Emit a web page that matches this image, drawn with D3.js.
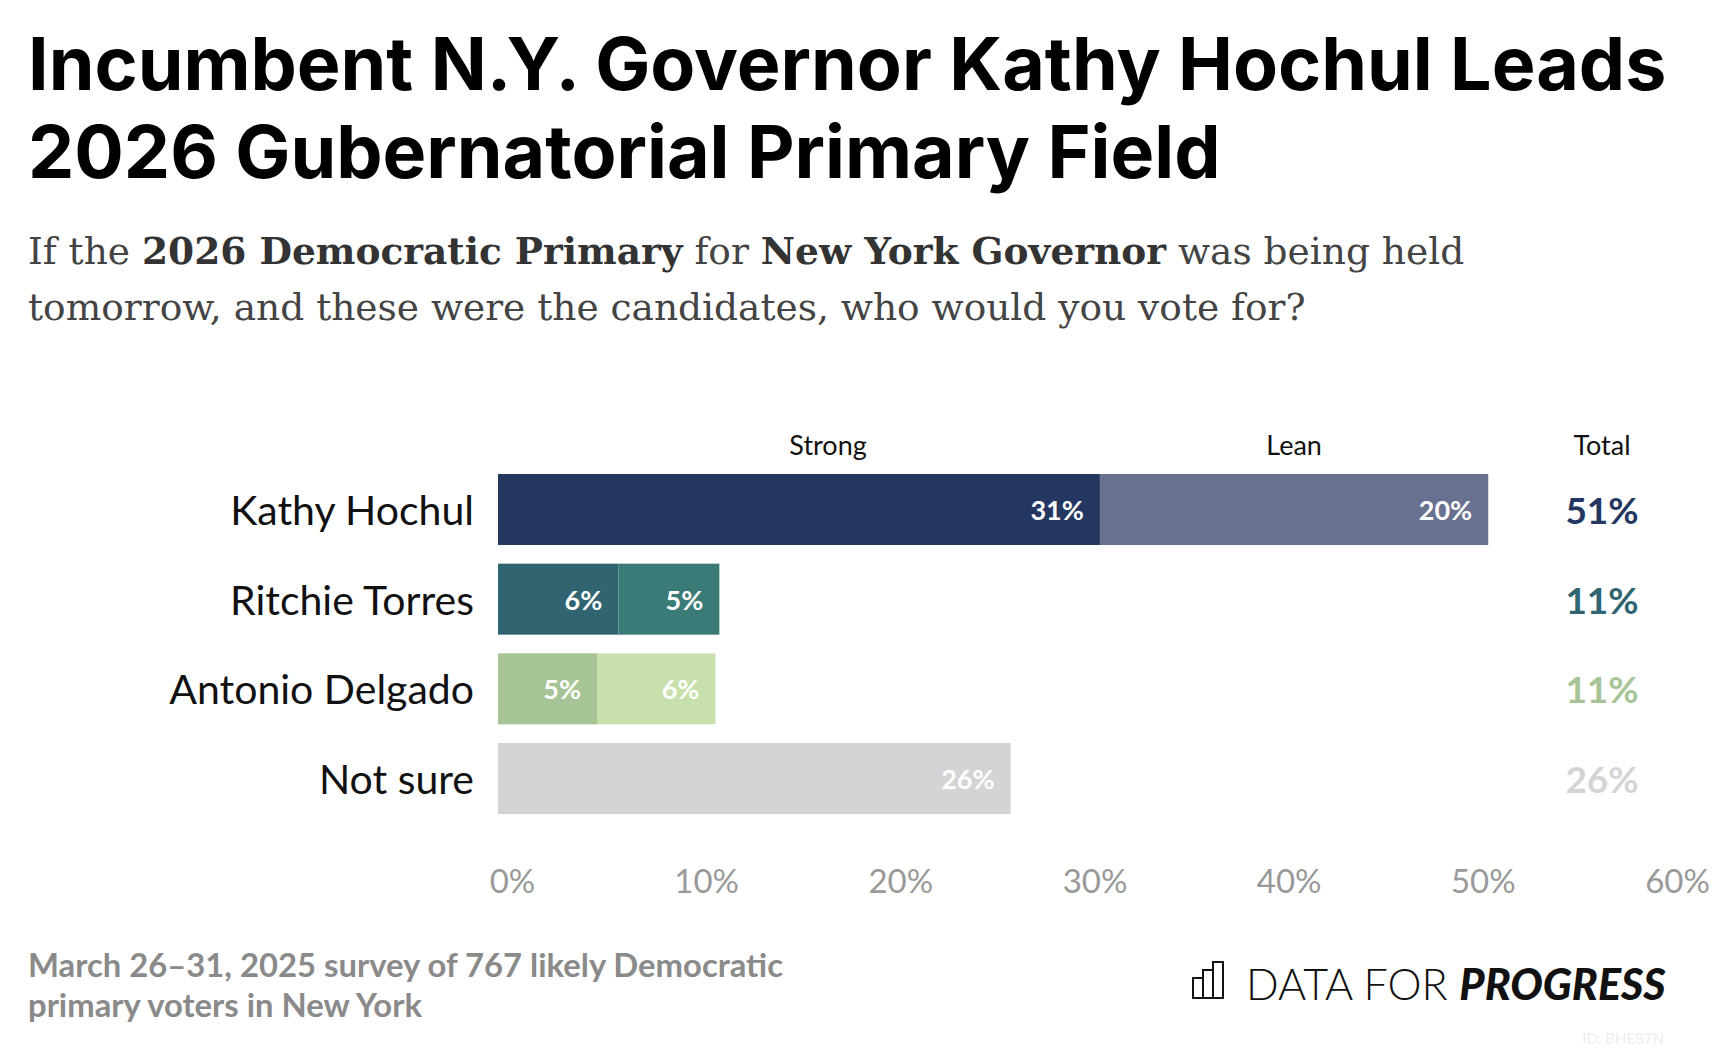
<!DOCTYPE html>
<html><head><meta charset="utf-8">
<script src="https://cdn.jsdelivr.net/npm/d3@7"></script>
<style>body{margin:0;background:#fff}</style></head>
<body><svg id="c" width="1720" height="1056"></svg>
<script>
const categories=["Kathy Hochul","Ritchie Torres","Antonio Delgado","Not sure"];
const strong=[31.0,6.2,5.1,26.4];
const lean=[20.0,5.2,6.1,0];
const strongColors=["#243761","#2f6470","#a6c495","#d3d4d6"];
const leanColors=["#68718f","#3a7b78","#c8e0ab","#d3d4d6"];
const ticks=[0,10,20,30,40,50,60];

const svg=d3.select("#c");
const F="Lato, 'Open Sans', sans-serif";
const t=svg.append("text").attr("font-family","Inter, sans-serif").attr("font-weight",700).attr("font-size",73.5).attr("fill","#000");
t.append("tspan").attr("x",28).attr("y",90).text("Incumbent N.Y. Governor Kathy Hochul Leads");
t.append("tspan").attr("x",28).attr("y",178).text("2026 Gubernatorial Primary Field");
const s=svg.append("text").attr("font-family","'DejaVu Serif', serif").attr("font-size",37.5).attr("fill","#444");
const l1=s.append("tspan").attr("x",28).attr("y",264);
l1.append("tspan").text("If the ");
l1.append("tspan").attr("font-weight",700).attr("fill","#333").text("2026 Democratic Primary");
l1.append("tspan").text(" for ");
l1.append("tspan").attr("font-weight",700).attr("fill","#333").text("New York Governor");
l1.append("tspan").text(" was being held");
s.append("tspan").attr("x",28).attr("y",320).text("tomorrow, and these were the candidates, who would you vote for?");

const x=d3.scaleLinear().domain([0,60]).range([498,1663]);
const y=d3.scaleBand().domain(categories).range([474,814]).paddingInner(0.208).paddingOuter(0);
const data=categories.map((c,i)=>({c,i,s:strong[i],l:lean[i],t:strong[i]+lean[i]}));
const g=svg.append("g");
g.selectAll(".s").data(data).join("rect").attr("x",x(0)).attr("y",d=>y(d.c)).attr("height",y.bandwidth()).attr("width",d=>x(d.s)-x(0)).attr("fill",d=>strongColors[d.i]);
g.selectAll(".l").data(data.filter(d=>d.l>0)).join("rect").attr("x",d=>x(d.s)).attr("y",d=>y(d.c)).attr("height",y.bandwidth()).attr("width",d=>x(d.s+d.l)-x(d.s)).attr("fill",d=>leanColors[d.i]);
const lab=(sel)=>sel.attr("font-family",F).attr("font-weight",700).attr("font-size",27).attr("fill","#fff").attr("text-anchor","end").attr("dominant-baseline","central");
lab(g.selectAll(".sl").data(data).join("text").attr("x",d=>x(d.s)-16).attr("y",d=>y(d.c)+y.bandwidth()/2).text(d=>Math.round(d.s)+"%"));
lab(g.selectAll(".ll").data(data.filter(d=>d.l>0)).join("text").attr("x",d=>x(d.s+d.l)-16).attr("y",d=>y(d.c)+y.bandwidth()/2).text(d=>Math.round(d.l)+"%"));
g.selectAll(".cat").data(data).join("text").attr("x",474).attr("y",d=>y(d.c)+y.bandwidth()/2).attr("text-anchor","end").attr("dominant-baseline","central").attr("font-family",F).attr("font-size",41).attr("fill","#111").text(d=>d.c);
g.selectAll(".tot").data(data).join("text").attr("x",1602).attr("y",d=>y(d.c)+y.bandwidth()/2).attr("text-anchor","middle").attr("dominant-baseline","central").attr("font-family",F).attr("font-weight",700).attr("font-size",37).attr("fill",d=>strongColors[d.i]).text(d=>Math.round(d.t)+"%");
const hd=[["Strong",x(17)],["Lean",x(41)],["Total",1602]];
svg.selectAll(".hd").data(hd).join("text").attr("x",d=>d[1]).attr("y",455).attr("text-anchor","middle").attr("font-family",F).attr("font-size",27).attr("fill","#111").text(d=>d[0]);
const ax=svg.append("g").attr("transform","translate(14,0)").call(d3.axisBottom(x).tickValues(ticks).tickFormat(d=>d+"%").tickSize(0));
ax.select(".domain").remove();
ax.selectAll("text").attr("y",893).attr("dy",0).attr("font-family",F).attr("font-size",33).attr("fill","#999");
const ft=svg.append("text").attr("font-family",F).attr("font-weight",700).attr("font-size",32.8).attr("fill","#8a8a8a");
ft.append("tspan").attr("x",28).attr("y",977).text("March 26–31, 2025 survey of 767 likely Democratic");
ft.append("tspan").attr("x",28).attr("y",1017).text("primary voters in New York");
const lg=svg.append("g").attr("fill","none").attr("stroke","#111").attr("stroke-width",2);
[[1193,978,10,20],[1203,970,10,28],[1213,962,10,36]].forEach(r=>lg.append("rect").attr("x",r[0]).attr("y",r[1]).attr("width",r[2]).attr("height",r[3]));
const lt=svg.append("text").attr("x",1246).attr("y",1000).attr("font-family",F).attr("font-size",43).attr("fill","#111");
lt.append("tspan").attr("font-weight",300).text("DATA FOR ");
lt.append("tspan").attr("font-weight",900).attr("font-style","italic").text("PROGRESS");
svg.append("text").attr("x",1664).attr("y",1044).attr("text-anchor","end").attr("font-family",F).attr("font-size",15).attr("fill","#eee").text("ID: BHE87N");
</script></body></html>
